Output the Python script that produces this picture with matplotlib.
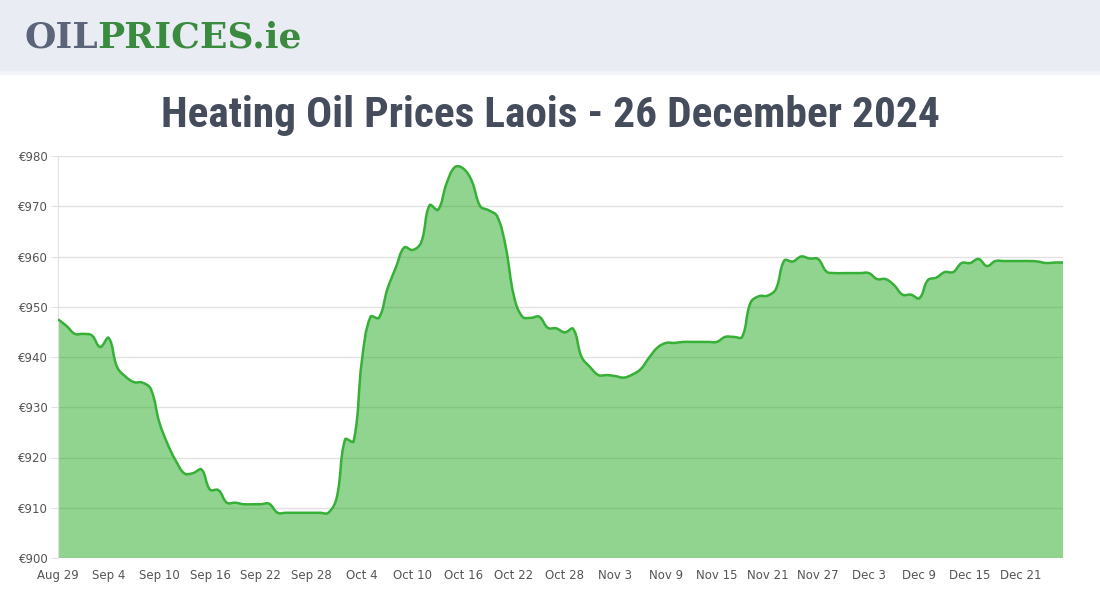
"""
Heating oil price chart - Laois
"""

from matplotlib import pyplot as plt
from matplotlib import font_manager
from matplotlib.path import Path
from matplotlib.patches import PathPatch, Rectangle
import pandas as pd
import numpy as np

#Daily prices, one value per day from 29 Aug 2024
start_date = "2024-08-29"
prices = [
    947.5, 946.2, 944.6, 944.6, 944.3, 942.0, 943.8, 938.0, 936.1, 935.0,
    934.9, 933.6, 927.0, 922.6, 919.2, 916.8, 916.9, 917.6, 913.6, 913.5,
    911.0, 911.0, 910.7, 910.7, 910.7, 910.8, 909.0, 909.0, 909.0, 909.0,
    909.0, 909.0, 909.0, 912.0, 923.6, 923.2, 939.5, 948.0, 947.8, 953.5,
    957.8, 961.8, 961.3, 962.8, 970.2, 969.3, 974.5, 977.8, 977.5, 975.0,
    970.0, 969.2, 968.0, 962.0, 952.0, 948.0, 947.8, 948.0, 945.8, 945.7,
    944.9, 945.6, 940.0, 938.0, 936.4, 936.4, 936.2, 935.9, 936.5, 937.6,
    939.9, 941.9, 942.8, 942.8, 943.0, 943.0, 943.0, 943.0, 943.0, 944.0,
    944.0, 944.0, 950.8, 952.1, 952.2, 953.5, 959.2, 959.0, 960.0, 959.6,
    959.5, 957.0, 956.7, 956.7, 956.7, 956.7, 956.7, 955.5, 955.5, 954.3,
    952.4, 952.4, 951.7, 955.3, 955.8, 956.9, 956.9, 958.7, 958.7, 959.5,
    958.1, 959.1, 959.1, 959.1, 959.1, 959.1, 959.0, 958.7, 958.8, 958.8,
]
y_ticks = [900, 910, 920, 930, 940, 950, 960, 970, 980]
title = "Heating Oil Prices Laois - 26 December 2024"

dates = pd.date_range(start_date, periods=len(prices))
days = np.arange(len(prices))
tick_days = days[::6]
tick_labels = [f"{d:%b} {d.day}" for d in dates[::6]]

#pick a narrow font for the title if we have one
names = {f.name for f in font_manager.fontManager.ttflist}
title_font = "DejaVu Sans"
for cand in ["Liberation Sans Narrow", "Roboto Condensed", "Open Sans Condensed"]:
    if cand in names:
        title_font = cand
        break

#Smooth bezier path through the points (tension 0.4, like the web chart)
def spline_path(x, y, sx, sy, t=0.4):
    pts = np.column_stack([x, y]).astype(float)
    scale = np.array([sx, sy])
    verts = [pts[0]]
    codes = [Path.MOVETO]
    n = len(pts)
    cp_prev = [None] * n
    cp_next = [None] * n
    for i in range(n):
        p0 = pts[max(i - 1, 0)]
        p1 = pts[i]
        p2 = pts[min(i + 1, n - 1)]
        d01 = np.hypot(*((p1 - p0) * scale))
        d12 = np.hypot(*((p2 - p1) * scale))
        tot = d01 + d12
        s01 = d01 / tot if tot else 0
        s12 = d12 / tot if tot else 0
        cp_prev[i] = p1 - t * s01 * (p2 - p0)
        cp_next[i] = p1 + t * s12 * (p2 - p0)
    for i in range(1, n):
        verts += [cp_next[i - 1], cp_prev[i], pts[i]]
        codes += [Path.CURVE4] * 3
    return np.array(verts), codes

fig = plt.figure(figsize=(11, 6), dpi=100)

#Header band with logo
fig.patches.append(Rectangle((0, 1 - 74 / 600), 1, 74 / 600, transform=fig.transFigure,
                             color="#f4f5f8", zorder=0))
fig.patches.append(Rectangle((0, 1 - 70 / 600), 1, 70 / 600, transform=fig.transFigure,
                             color="#e9ecf3", zorder=1))
logo_y = 1 - 38 / 600
t1 = fig.text(24 / 1100, logo_y, "OIL", fontsize=26, fontweight="heavy", family="DejaVu Serif",
              color="#5b6478", va="center", ha="left")
fig.canvas.draw()
bb = t1.get_window_extent()
fig.text(bb.x1 / 1100, logo_y, "PRICES.ie", fontsize=26, fontweight="heavy", family="DejaVu Serif",
         color="#3a8b3f", va="center", ha="left")

#title, sized to span the same width as on the site
tt = fig.text(0.5, 1 - 115 / 600, title, fontsize=30, fontweight="bold", family=title_font,
              fontstretch="condensed", color="#454c5c", ha="center", va="center")
fig.canvas.draw()
w = tt.get_window_extent().width
tt.set_fontsize(30 * 780 / w)

ax = fig.add_axes([58 / 1100, 42 / 600, 1005 / 1100, 402 / 600])
verts, codes = spline_path(days, prices, 8.45, 5.025)
line_path = Path(verts, codes)
fill_verts = np.vstack([verts, [[days[-1], y_ticks[0]], [days[0], y_ticks[0]], verts[0]]])
fill_codes = codes + [Path.LINETO, Path.LINETO, Path.CLOSEPOLY]
ax.add_patch(PathPatch(Path(fill_verts, fill_codes), facecolor="#23aa23", alpha=0.5,
                       edgecolor="none", zorder=2))
ax.add_patch(PathPatch(line_path, facecolor="none", edgecolor="#36b036", lw=1.8, zorder=3))

ax.set_xlim(days[0], days[-1])
ax.set_ylim(y_ticks[0], y_ticks[-1])
ax.set_yticks(y_ticks)
ax.set_yticklabels([f"€{v}" for v in y_ticks])
ax.set_xticks(tick_days)
ax.set_xticklabels(tick_labels)
ax.grid(axis="y", color="#e1e1e1", lw=1)
ax.set_axisbelow(True)
for s in ["top", "right", "bottom"]:
    ax.spines[s].set_visible(False)
ax.spines["left"].set_color("#e1e1e1")
ax.tick_params(axis="y", labelsize=8.5, colors="#e1e1e1", labelcolor="#555555", length=5, pad=2)
ax.tick_params(axis="x", labelsize=8.5, labelcolor="#555555", length=0, pad=8)

plt.savefig("out.png", dpi=100)
